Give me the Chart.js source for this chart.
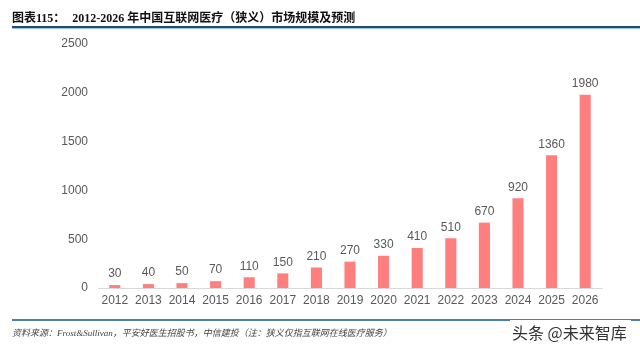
<!DOCTYPE html>
<html>
<head>
<meta charset="utf-8">
<script src="https://cdn.jsdelivr.net/npm/chart.js@4/dist/chart.umd.min.js"></script>
<style>
  html, body { margin: 0; padding: 0; background: #fff; }
  #wrap { position: relative; width: 640px; height: 346px; overflow: hidden; }
  #chart { position: absolute; left: 0; top: 0; }
  .title {
    position: absolute; left: 12px; top: 8px; white-space: nowrap;
    font: bold 12px "Liberation Serif", "Noto Sans CJK SC", serif; color: #111;
  }
  .title .sub { margin-left: 7px; }
  .rule-top { position: absolute; left: 12px; right: 0; top: 26px; height: 2px; background: #1f4e79; border-bottom: 1px solid #9dc3e6; }
  .rule-bottom { position: absolute; left: 12px; right: 0; top: 319px; height: 2px; background: #4f7fa8; }
  .source {
    position: absolute; left: 12px; top: 326px; white-space: nowrap;
    font: italic 9px "Liberation Serif", "Noto Sans CJK SC", serif; color: #444;
  }
  .mark {
    position: absolute; left: 510px; top: 320px; white-space: nowrap; background: #fff; padding: 0 4px 0 2px;
    font: 16px "Noto Sans CJK SC", sans-serif; color: #333;
  }
</style>
</head>
<body>
<div id="wrap">
  <canvas id="chart" width="640" height="346"></canvas>
  <div class="title">图表115：<span class="sub">2012-2026 年中国互联网医疗（狭义）市场规模及预测</span></div>
  <div class="rule-top"></div>
  <div class="rule-bottom"></div>
  <div class="source">资料来源：Frost&amp;Sullivan，平安好医生招股书，中信建投（注：狭义仅指互联网在线医疗服务）</div>
  <div class="mark">头条 @未来智库</div>
</div>
<script>
const years = ['2012', '2013', '2014', '2015', '2016', '2017', '2018', '2019', '2020', '2021', '2022', '2023', '2024', '2025', '2026'];
const marketSize = [30, 40, 50, 70, 110, 150, 210, 270, 330, 410, 510, 670, 920, 1360, 1980];
const yTicks = [0, 500, 1000, 1500, 2000, 2500];

const barColor = '#ff7f7f';
const textColor = '#595959';
const fontFamily = 'Arial, "Liberation Sans", sans-serif';

// value printed above each bar
const barValues = {
  id: 'barValues',
  afterDatasetsDraw(chart) {
    const ctx = chart.ctx;
    const meta = chart.getDatasetMeta(0);
    ctx.save();
    ctx.fillStyle = textColor;
    ctx.font = '12px ' + fontFamily;
    ctx.textAlign = 'center';
    ctx.textBaseline = 'bottom';
    meta.data.forEach((bar, i) => {
      ctx.fillText(String(marketSize[i]), bar.x, bar.y - 5);
    });
    ctx.restore();
  }
};

new Chart(document.getElementById('chart'), {
  type: 'bar',
  data: {
    labels: years,
    datasets: [{
      data: marketSize,
      backgroundColor: barColor,
      barPercentage: 0.33,
      categoryPercentage: 1
    }]
  },
  options: {
    responsive: false,
    animation: false,
    layout: { padding: { left: 0, right: 38, top: 44, bottom: 36 } },
    plugins: { legend: { display: false }, tooltip: { enabled: false } },
    scales: {
      x: {
        grid: { display: false, drawTicks: false },
        border: { color: '#d9d9d9', width: 1 },
        ticks: { color: textColor, font: { size: 12, family: fontFamily }, padding: 5, maxRotation: 0 },
        afterFit(scale) { scale.height = 22; }
      },
      y: {
        min: 0,
        max: 2500,
        grid: { display: false, drawTicks: false },
        border: { display: false },
        afterBuildTicks(scale) { scale.ticks = yTicks.map(v => ({ value: v })); },
        ticks: {
          color: textColor,
          font: { size: 12, family: fontFamily },
          padding: 10,
          callback: v => String(v)
        },
        afterFit(scale) { scale.width = 98; }
      }
    }
  },
  plugins: [barValues]
});
</script>
</body>
</html>
